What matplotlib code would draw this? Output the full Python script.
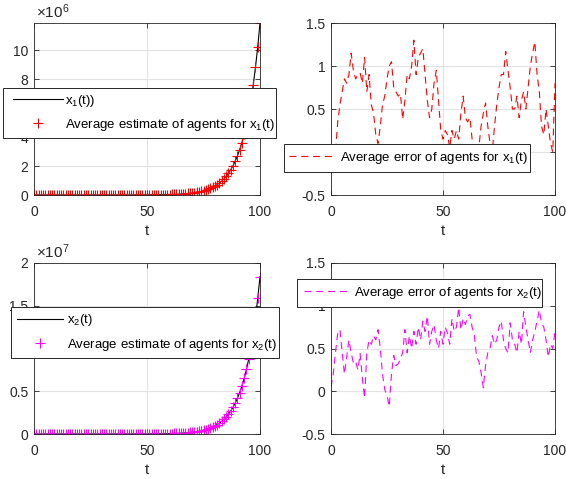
import matplotlib
matplotlib.use("Agg")
import matplotlib.pyplot as plt
from matplotlib.ticker import FuncFormatter
from matplotlib.patches import Rectangle

plt.rcParams['font.family'] = ['Liberation Sans', 'DejaVu Sans']
plt.rcParams['mathtext.fontset'] = 'custom'
plt.rcParams['mathtext.rm'] = 'Liberation Sans'
plt.rcParams['mathtext.it'] = 'Liberation Sans'
plt.rcParams['mathtext.bf'] = 'Liberation Sans'
plt.rcParams['lines.scale_dashes'] = False

# ---------------- data ----------------
t = list(range(101))

# x1(t) in units of 1e6
x1_m = [0.0, 0.0, 0.0, 0.0, 0.0, 0.0, 0.0, 0.0, 0.0, 0.0,
        0.0, 0.0, 0.0, 0.0, 0.0, 0.0, 0.0, 0.0, 0.0, 0.0,
        0.0, 0.0, 0.0, 0.0, 0.0, 0.0, 0.0, 0.0, 0.0, 0.0,
        0.0, 0.0, 0.0, 0.0, 0.0, 0.0, 0.0, 0.0, 0.0, 0.0,
        0.001, 0.002, 0.002, 0.002, 0.003, 0.003, 0.004, 0.004, 0.005, 0.006,
        0.007, 0.008, 0.010, 0.011, 0.013, 0.015, 0.018, 0.020, 0.024, 0.027,
        0.032, 0.037, 0.043, 0.049, 0.057, 0.065, 0.076, 0.089, 0.104, 0.119,
        0.138, 0.161, 0.187, 0.217, 0.251, 0.292, 0.338, 0.392, 0.455, 0.527,
        0.612, 0.709, 0.822, 0.954, 1.11, 1.28, 1.49, 1.73, 2.01, 2.33,
        2.70, 3.13, 3.63, 4.21, 4.88, 5.67, 6.57, 7.62, 8.84, 10.26,
        11.9]
est1_m = list(x1_m)

# x2(t) in units of 1e7
x2_m = [0.0, 0.0, 0.0, 0.0, 0.0, 0.0, 0.0, 0.0, 0.0, 0.0,
        0.0, 0.0, 0.0, 0.0, 0.0, 0.0, 0.0, 0.0, 0.0, 0.0,
        0.0, 0.0, 0.0, 0.0, 0.0, 0.0, 0.0, 0.0, 0.0, 0.0,
        0.0, 0.0, 0.0, 0.0, 0.0, 0.0, 0.0, 0.0, 0.0, 0.0,
        0.0002, 0.0003, 0.0003, 0.0004, 0.0005, 0.0005, 0.0006, 0.0007, 0.0008, 0.001,
        0.0011, 0.0013, 0.0015, 0.0017, 0.002, 0.0023, 0.0027, 0.0031, 0.0036, 0.004,
        0.0048, 0.0056, 0.0065, 0.0075, 0.0087, 0.010, 0.012, 0.014, 0.016, 0.018,
        0.021, 0.025, 0.029, 0.034, 0.039, 0.045, 0.052, 0.061, 0.070, 0.082,
        0.095, 0.110, 0.127, 0.148, 0.171, 0.199, 0.230, 0.267, 0.310, 0.360,
        0.417, 0.484, 0.561, 0.651, 0.755, 0.876, 1.016, 1.179, 1.367, 1.586,
        1.84]
est2_m = list(x2_m)

err1 = [-0.25, -0.2, 0.0, 0.35, 0.55, 0.7, 0.85, 0.8, 0.9, 1.15,
        0.95, 0.85, 0.9, 0.92, 0.8, 1.1, 0.7, 0.9, 0.55, 0.45,
        0.2, 0.1, 0.3, 0.55, 0.65, 0.85, 1.0, 1.05, 0.75, 0.7,
        0.65, 0.68, 0.38, 0.6, 0.9, 0.85, 1.0, 1.3, 0.9, 1.1,
        1.15, 1.2, 0.9, 0.6, 0.4, 0.5, 0.8, 0.95, 0.6, 0.25,
        0.15, 0.25, 0.2, 0.05, 0.25, 0.15, 0.25, 0.15, 0.45, 0.65,
        0.4, 0.35, 0.4, 0.15, 0.0, -0.1, 0.05, 0.3, 0.45, 0.57,
        0.3, 0.1, 0.0, 0.3, 0.55, 0.75, 0.9, 0.9, 1.17, 0.95,
        0.75, 0.5, 0.5, 0.65, 0.4, 0.6, 0.7, 0.5, 0.75, 1.0,
        1.15, 1.28, 0.9, 0.7, 0.3, 0.2, 0.5, 0.3, 0.1, 0.0,
        0.8]

err2 = [0.05, 0.2, 0.45, 0.68, 0.72, 0.45, 0.2, 0.4, 0.6, 0.45,
        0.33, 0.35, 0.25, 0.44, 0.15, -0.08, 0.45, 0.6, 0.55, 0.65,
        0.6, 0.72, 0.5, 0.2, 0.02, -0.05, -0.18, 0.2, 0.42, 0.3,
        0.32, 0.38, 0.45, 0.72, 0.45, 0.65, 0.5, 0.7, 0.55, 0.75,
        0.6, 0.82, 0.7, 0.88, 0.55, 0.7, 0.78, 0.6, 0.5, 0.7,
        0.55, 0.75, 0.68, 0.55, 0.85, 0.7, 0.75, 0.98, 0.72, 0.85,
        0.78, 0.88, 0.9, 0.75, 0.65, 0.4, 0.35, 0.22, 0.04, 0.3,
        0.45, 0.5, 0.65, 0.55, 0.6, 0.75, 0.82, 0.6, 0.5, 0.45,
        0.8, 0.6, 0.55, 0.45, 0.7, 0.55, 0.93, 0.75, 0.6, 0.45,
        0.6, 0.7, 0.82, 0.95, 0.8, 0.75, 0.6, 0.4, 0.55, 0.5,
        0.7]

x1 = [v * 1e6 for v in x1_m]
est1 = [v * 1e6 for v in est1_m]
x2 = [v * 1e7 for v in x2_m]
est2 = [v * 1e7 for v in est2_m]

# ---------------- figure ----------------
W, H = 566, 479
fig = plt.figure(figsize=(W / 100, H / 100), dpi=100)

def rect(l, r, top, bot):
    return [l / W, 1 - bot / H, (r - l) / W, (bot - top) / H]

dark = '#262626'
LFS = 9.5
EM = LFS * 100 / 72.0

def style(ax):
    ax.grid(True, color='#e3e3e3', linewidth=0.8)
    ax.set_axisbelow(True)
    ax.tick_params(direction='in', length=3.5, width=0.6, top=True, right=True,
                   labelsize=10, colors=dark)
    ax.tick_params(axis='x', pad=7)
    ax.tick_params(axis='y', pad=4)
    for s in ax.spines.values():
        s.set_color(dark)
        s.set_linewidth(0.6)
    ax.set_xlim(0, 100)
    ax.set_xticks([0, 50, 100])
    ax.set_xlabel('t', fontsize=11, color=dark, labelpad=4)

def leg(handles, labels, l, r, top, bot, hx0, hx1, tx):
    fr = Rectangle((l / W, 1 - bot / H), (r - l) / W, (bot - top) / H,
                   transform=fig.transFigure, facecolor='white', edgecolor=dark,
                   linewidth=0.7, zorder=10)
    fig.add_artist(fr)
    lg = fig.legend(handles, labels, loc='center left',
                    bbox_to_anchor=(hx0 / W, 1 - (top + bot) / 2 / H),
                    bbox_transform=fig.transFigure, borderaxespad=0, borderpad=0,
                    fontsize=LFS, handlelength=(hx1 - hx0) / EM,
                    handletextpad=(tx - hx1) / EM, labelspacing=0.62,
                    frameon=False, numpoints=1)
    lg.set_zorder(11)
    for txt in lg.get_texts():
        txt.set_color('black')
    return lg

# top-left
ax1 = fig.add_axes(rect(34, 260, 23, 195))
style(ax1)
l1, = ax1.plot(t, x1, color='black', linewidth=0.8)
m1, = ax1.plot(t, est1, linestyle='none', marker='+', color='red', markersize=7.5, markeredgewidth=0.8)
ax1.set_ylim(0, max(x1))
ax1.set_yticks([0, 2e6, 4e6, 6e6, 8e6, 10e6])
ax1.yaxis.set_major_formatter(FuncFormatter(lambda v, p: f'{v/1e6:g}'))
ax1.text(0.01, 1.01, r'$\times$10$^{6}$', transform=ax1.transAxes, fontsize=11, color=dark,
         ha='left', va='bottom')
leg([l1, m1], ['x$_1$(t))', 'Average estimate of agents for x$_1$(t)'], 3, 276, 88, 138, 13, 63, 65)

# top-right
ax2 = fig.add_axes(rect(331, 555, 23, 195))
style(ax2)
e1, = ax2.plot(t, err1, color='red', linewidth=0.8, dashes=(5, 3.5))
ax2.set_ylim(-0.5, 1.5)
ax2.set_yticks([-0.5, 0, 0.5, 1, 1.5])
ax2.yaxis.set_major_formatter(FuncFormatter(lambda v, p: f'{v:g}'))
leg([e1], ['Average error of agents for x$_1$(t)'], 284, 530, 144, 172, 289, 335, 340)

# bottom-left
ax3 = fig.add_axes(rect(34, 260, 263, 434))
style(ax3)
l2, = ax3.plot(t, x2, color='black', linewidth=0.8)
m2, = ax3.plot(t, est2, linestyle='none', marker='+', color='magenta', markersize=7.5, markeredgewidth=0.8)
ax3.set_ylim(0, 2e7)
ax3.set_yticks([0, 0.5e7, 1e7, 1.5e7, 2e7])
ax3.yaxis.set_major_formatter(FuncFormatter(lambda v, p: f'{v/1e7:g}'))
ax3.text(0.01, 1.01, r'$\times$10$^{7}$', transform=ax3.transAxes, fontsize=11, color=dark,
         ha='left', va='bottom')
leg([l2, m2], ['x$_2$(t)', 'Average estimate of agents for x$_2$(t)'], 11, 279, 307, 358, 17, 63, 67)

# bottom-right
ax4 = fig.add_axes(rect(331, 555, 263, 434))
style(ax4)
e2, = ax4.plot(t, err2, color='magenta', linewidth=0.8, dashes=(5, 3.5))
ax4.set_ylim(-0.5, 1.5)
ax4.set_yticks([-0.5, 0, 0.5, 1, 1.5])
ax4.yaxis.set_major_formatter(FuncFormatter(lambda v, p: f'{v:g}'))
leg([e2], ['Average error of agents for x$_2$(t)'], 297, 542, 279, 307, 304, 348, 354)

fig.savefig('out.png', dpi=100)
